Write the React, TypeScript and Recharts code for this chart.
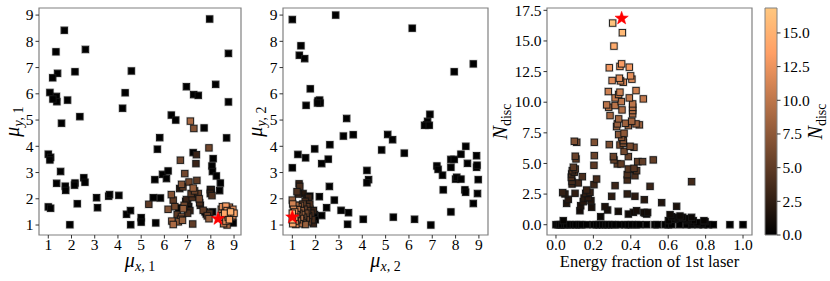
import React from "react";
import { ScatterChart, Scatter, XAxis, YAxis, ReferenceArea } from "recharts";

/* eslint-disable @typescript-eslint/no-explicit-any */

const SERIF = '"Liberation Serif", "Times New Roman", Times, serif';
const VMAX = 16.85;

// panel 1: (mu_x1, mu_y1) for runs with N_disc ~ 0
const p1Zero: [number, number][] = [
  [7.95, 8.85], [1.69, 8.42], [1.33, 7.6], [2.6, 7.69], [8.76, 7.54], [2.15, 6.84], [4.58, 6.87],
  [1.4, 6.78], [1.19, 6.61], [6.95, 6.27], [8.21, 6.36], [7.26, 5.97], [7.46, 5.94], [1.07, 6.05],
  [1.35, 5.9], [1.37, 5.7], [1.2, 5.8], [1.83, 5.76], [8.76, 5.69], [4.31, 6.04], [4.2, 5.45],
  [2.36, 5.13], [6.3, 5.19], [6.49, 5.0], [1.57, 4.88], [7.71, 4.7], [5.8, 4.33], [8.68, 4.32],
  [5.7, 3.89], [1.0, 3.7], [1.1, 3.58], [1.07, 3.48], [7.24, 3.76], [8.1, 3.53], [1.53, 3.04],
  [5.92, 2.93], [6.09, 2.77], [6.16, 3.06], [5.59, 2.73], [1.36, 2.59], [1.73, 2.48], [1.75, 2.32],
  [2.15, 2.6], [2.13, 2.52], [2.53, 2.8], [2.58, 2.63], [8.05, 3.25], [8.07, 3.04], [8.41, 2.6],
  [8.38, 2.31], [8.24, 2.87], [3.6, 2.1], [3.64, 2.16], [4.04, 2.13], [3.08, 2.04], [3.12, 1.66],
  [2.25, 1.81], [5.52, 2.04], [5.83, 2.03], [1.0, 1.69], [1.1, 1.64], [4.37, 1.41], [4.54, 1.55],
  [4.55, 1.01], [5.0, 1.28], [5.0, 1.11], [1.93, 1.01], [5.63, 1.08], [8.96, 1.08], [7.98, 2.35],
  [8.0, 2.25], [7.75, 1.5], [7.8, 1.42], [6.62, 1.65], [6.92, 1.9], [7.05, 1.7], [8.08, 1.5],
];

// panel 1: (mu_x1, mu_y1, N_disc)
const p1Hit: [number, number, number][] = [
  [7.12, 4.96, 9], [7.27, 4.68, 7], [7.92, 3.94, 6], [6.69, 3.47, 6], [7.38, 3.68, 3], [7.36, 3.34, 3],
  [6.88, 2.96, 6], [7.4, 2.7, 5], [7.06, 2.64, 6], [6.74, 2.55, 7], [6.8, 2.45, 5], [6.66, 2.39, 2],
  [7.24, 2.41, 8], [7.3, 2.3, 6], [7.15, 2.2, 5], [7.2, 2.05, 4], [6.95, 1.97, 3], [7.0, 1.85, 2],
  [7.46, 2.2, 5], [7.5, 2.0, 6], [7.52, 1.85, 4], [7.55, 1.75, 3], [6.3, 2.16, 7], [6.38, 1.95, 5],
  [6.45, 1.7, 6], [6.16, 1.6, 7], [6.81, 1.62, 8], [6.74, 1.31, 7], [6.55, 1.4, 5], [6.85, 1.75, 6],
  [5.33, 1.79, 5], [6.32, 1.15, 9], [6.38, 1.02, 9], [6.6, 1.12, 8], [6.7, 1.22, 7], [6.78, 1.18, 8],
  [7.22, 1.04, 5], [7.0, 1.45, 4], [7.1, 1.55, 3], [7.98, 2.2, 3], [8.02, 2.35, 2], [8.05, 2.12, 4],
  [7.92, 1.24, 8], [7.67, 1.56, 5], [7.85, 1.35, 6], [7.95, 1.45, 4],
  [8.5, 1.7, 12], [8.65, 1.72, 13], [8.8, 1.68, 11], [8.95, 1.6, 12], [9.0, 1.45, 14], [8.85, 1.5, 15],
  [8.7, 1.55, 13], [8.6, 1.45, 14], [8.5, 1.35, 12], [8.45, 1.6, 10], [8.75, 1.3, 13], [8.9, 1.3, 11],
  [8.65, 1.15, 12], [8.8, 1.2, 14], [8.55, 1.05, 10], [8.7, 1.0, 9], [8.95, 1.35, 12],
];
const p1Best: [number, number] = [8.31, 1.24];

// panel 2: (mu_x2, mu_y2) for runs with N_disc ~ 0
const p2Zero: [number, number][] = [
  [1.0, 8.83], [2.86, 9.0], [6.14, 8.5], [1.37, 7.83], [1.3, 7.47], [1.53, 7.34], [8.76, 7.14],
  [7.94, 6.84], [1.77, 6.19], [2.1, 5.73], [2.17, 5.76], [2.19, 5.65], [2.08, 5.65], [1.59, 5.56],
  [6.9, 5.22], [6.8, 4.95], [6.76, 4.82], [6.67, 4.8], [6.87, 4.8], [3.33, 5.06], [5.09, 4.45],
  [5.3, 4.25], [3.19, 4.39], [3.61, 4.44], [2.61, 4.06], [8.44, 4.0], [1.96, 3.9], [1.24, 3.69],
  [4.83, 3.86], [5.8, 3.74], [8.23, 3.7], [8.9, 3.64], [1.57, 3.56], [2.54, 3.51], [7.8, 3.5],
  [7.94, 3.5], [2.26, 3.34], [8.51, 3.35], [1.0, 3.18], [4.2, 3.08], [4.27, 2.73], [4.2, 2.61],
  [7.2, 3.25], [7.25, 3.12], [7.44, 2.9], [7.8, 3.2], [8.9, 3.2], [8.92, 3.28], [8.0, 2.75],
  [8.05, 2.82], [8.23, 2.75], [8.97, 2.73], [7.47, 2.34], [8.4, 2.34], [8.43, 2.25], [8.94, 2.2],
  [8.76, 1.82], [2.59, 2.47], [2.16, 2.08], [2.8, 1.95], [2.47, 1.66], [3.09, 1.56], [3.41, 1.47],
  [2.26, 1.36], [3.37, 1.03], [4.04, 1.22], [5.33, 1.3], [6.24, 1.22], [6.94, 1.0], [7.8, 1.5],
  [1.95, 1.4], [1.98, 1.2], [1.9, 1.55], [1.75, 2.1], [1.65, 1.95],
];

// panel 2: (mu_x2, mu_y2, N_disc)
const p2Hit: [number, number, number][] = [
  [1.29, 2.57, 3], [1.32, 2.47, 4], [1.2, 2.27, 4], [1.25, 2.18, 3], [1.46, 2.2, 2], [1.6, 2.0, 2],
  [1.7, 2.05, 3], [1.55, 1.9, 4], [1.45, 1.8, 6], [1.35, 1.75, 7], [1.25, 1.7, 8], [1.15, 1.75, 9],
  [1.0, 1.95, 8], [1.02, 1.8, 11], [1.05, 1.6, 12], [1.1, 1.5, 13], [1.0, 1.45, 15], [1.18, 1.4, 11],
  [1.28, 1.45, 9], [1.38, 1.55, 8], [1.5, 1.6, 6], [1.62, 1.7, 5], [1.75, 1.6, 3], [1.8, 1.45, 4],
  [1.7, 1.35, 5], [1.6, 1.25, 6], [1.48, 1.3, 7], [1.35, 1.25, 9], [1.22, 1.2, 10], [1.12, 1.15, 12],
  [1.02, 1.05, 14], [1.0, 1.2, 16], [1.15, 1.02, 11], [1.3, 1.05, 9], [1.45, 1.1, 7], [1.55, 1.02, 8],
  [1.68, 1.12, 5], [1.85, 1.2, 4], [1.9, 1.05, 3], [1.4, 1.4, 8], [1.22, 1.58, 10], [1.1, 1.3, 14],
  [1.58, 1.45, 6], [1.75, 1.8, 4], [1.9, 1.55, 3], [1.65, 1.55, 5],
];
const p2Best: [number, number] = [1.0, 1.3];

// panel 3: energy fraction of runs with N_disc = 0
const p3Zero: number[] = [
  0.0, 0.012, 0.021, 0.03, 0.048, 0.057, 0.075, 0.093, 0.107, 0.125, 0.137, 0.164, 0.2, 0.217,
  0.232, 0.25, 0.267, 0.28, 0.298, 0.316, 0.339, 0.369, 0.387, 0.405, 0.428, 0.446, 0.485, 0.529,
  0.542, 0.583, 0.601, 0.619, 0.66, 0.699, 0.725, 0.761, 0.788, 0.815, 0.841, 0.93, 1.0,
];

// panel 3: (energy fraction, N_disc)
const p3Hit: [number, number][] = [
  [0.303, 16.46], [0.355, 15.67], [0.31, 14.58], [0.351, 13.13], [0.342, 12.92], [0.285, 12.81],
  [0.392, 12.86], [0.399, 12.15], [0.406, 11.88], [0.3, 11.77], [0.339, 11.96], [0.345, 11.74],
  [0.36, 11.63], [0.28, 10.87], [0.342, 10.82], [0.428, 10.95], [0.316, 10.35], [0.335, 10.63],
  [0.392, 10.35], [0.467, 10.27], [0.271, 9.78], [0.282, 9.59], [0.316, 9.73], [0.349, 10.05],
  [0.41, 9.86], [0.41, 9.59], [0.41, 9.32], [0.41, 9.05], [0.353, 9.37], [0.289, 8.91],
  [0.335, 8.64], [0.328, 8.23], [0.324, 8.01], [0.371, 8.28], [0.387, 8.09], [0.405, 8.45],
  [0.428, 8.23], [0.446, 8.15], [0.335, 7.36], [0.364, 7.47], [0.351, 7.14], [0.36, 6.87],
  [0.285, 6.54], [0.342, 6.51], [0.36, 6.65], [0.396, 6.4], [0.417, 6.32], [0.364, 5.99],
  [0.387, 5.56], [0.307, 5.56], [0.31, 5.29], [0.328, 4.96], [0.348, 4.96], [0.437, 5.15],
  [0.463, 5.15], [0.52, 5.29], [0.387, 4.55], [0.381, 4.09], [0.417, 4.6], [0.431, 4.41],
  [0.422, 4.0], [0.381, 3.65], [0.316, 3.19], [0.503, 3.13], [0.725, 3.51], [0.298, 2.32],
  [0.381, 2.51], [0.422, 2.32], [0.472, 2.04], [0.565, 1.8], [0.645, 1.5],
  [0.098, 6.81], [0.111, 6.73], [0.205, 6.73], [0.103, 5.59], [0.107, 5.37], [0.205, 5.64],
  [0.203, 4.85], [0.093, 4.69], [0.087, 4.41], [0.084, 4.14], [0.082, 3.87], [0.086, 3.54],
  [0.086, 3.32], [0.098, 4.28], [0.103, 4.55], [0.141, 3.92], [0.119, 3.41], [0.217, 3.73],
  [0.203, 3.27], [0.036, 2.62], [0.048, 2.51], [0.102, 2.56], [0.164, 2.83], [0.159, 2.56],
  [0.173, 2.23], [0.182, 2.64], [0.187, 1.96], [0.15, 2.18], [0.146, 1.88], [0.057, 1.74],
  [0.066, 2.07], [0.132, 1.55], [0.128, 1.14], [0.191, 1.42], [0.262, 1.47], [0.276, 1.2],
  [0.333, 1.09], [0.387, 0.87], [0.414, 1.01], [0.431, 1.14], [0.476, 0.95], [0.485, 0.87],
  [0.239, 0.65], [0.663, 0.71], [0.677, 0.6], [0.69, 0.49], [0.708, 0.46], [0.725, 0.6],
  [0.734, 0.33], [0.619, 0.65], [0.601, 0.33], [0.636, 0.44], [0.791, 0.33], [0.039, 0.33],
  [0.61, 0.82], [0.647, 0.57], [0.652, 0.57], [0.674, 0.57], [0.7, 0.49], [0.706, 0.33],
  [0.727, 0.16], [0.754, 0.16], [0.781, 0.08], [0.797, 0.25], [0.47, 1.0], [0.49, 1.0],
];
const p3Best: [number, number] = [0.351, 16.85];

const muTicks = [1, 2, 3, 4, 5, 6, 7, 8, 9];
const fracTicks = [0, 0.2, 0.4, 0.6, 0.8, 1.0];
const ndiscTicks = [0, 2.5, 5, 7.5, 10, 12.5, 15, 17.5];
const cbarTicks = [0, 2.5, 5, 7.5, 10, 12.5, 15];

function copper(v: number) {
  const t = Math.max(0, Math.min(1, v / VMAX));
  const r = Math.round(255 * Math.min(1, 1.25 * t));
  const g = Math.round(255 * 0.7812 * t);
  const b = Math.round(255 * 0.4975 * t);
  return `rgb(${r},${g},${b})`;
}

const SquareDot = (props: any) => {
  const { cx, cy, payload } = props;
  if (cx == null || cy == null) return <g />;
  return (
    <g>
      <rect x={cx - 3.9} y={cy - 3.9} width={7.8} height={7.8} fill="none" stroke="rgba(0,0,0,0.18)" strokeWidth={0.8} />
      <rect x={cx - 3.2} y={cy - 3.2} width={6.4} height={6.4} fill={copper(payload.n)} stroke="#161616" strokeWidth={0.9} />
    </g>
  );
};

const StarDot = (props: any) => {
  const { cx, cy } = props;
  if (cx == null || cy == null) return <g />;
  const pts: string[] = [];
  for (let i = 0; i < 10; i++) {
    const r = i % 2 === 0 ? 7 : 2.9;
    const a = -Math.PI / 2 + (i * Math.PI) / 5;
    pts.push(`${cx + r * Math.cos(a)},${cy + r * Math.sin(a)}`);
  }
  return <polygon points={pts.join(" ")} fill="#ff0000" stroke="#ff0000" strokeWidth={0.5} />;
};

const NoDot = () => <g />;

// serif tick text, recharts hands us the anchor point
const serifTick = (side: "x" | "y", fmt?: (v: number) => string) => (props: any) => {
  const { x, y, payload, textAnchor } = props;
  const v = payload.value;
  return (
    <text
      x={x}
      y={y}
      dy={side === "x" ? "0.7em" : "0.34em"}
      textAnchor={textAnchor}
      fontFamily={SERIF}
      fontSize={15.5}
      fill="#000"
    >
      {fmt ? fmt(v) : String(v)}
    </text>
  );
};

// labels with subscripts, placed in chart-local coords
const muLabel = (axis: string, idx: string, x: number, y: number, rotate: boolean) => () => (
  <text
    x={x}
    y={y}
    textAnchor="middle"
    fontFamily={SERIF}
    fontSize={20}
    fill="#000"
    transform={rotate ? `rotate(-90, ${x}, ${y})` : undefined}
  >
    <tspan fontStyle="italic">μ</tspan>
    <tspan fontSize={14} dy={4} fontStyle="italic">{axis}</tspan>
    <tspan fontSize={14}>, {idx}</tspan>
  </text>
);

const ndiscLabel = (x: number, y: number) => () => (
  <text x={x} y={y} textAnchor="middle" fontFamily={SERIF} fontSize={20} fill="#000" transform={`rotate(-90, ${x}, ${y})`}>
    <tspan fontStyle="italic">N</tspan>
    <tspan fontSize={14} dy={4}>disc</tspan>
  </text>
);

const plainLabel = (text: string, x: number, y: number) => () => (
  <text x={x} y={y} textAnchor="middle" fontFamily={SERIF} fontSize={16.5} fill="#000">
    {text}
  </text>
);

function toZero(arr: [number, number][]) {
  return arr.map(([x, y]) => ({ x, y, n: 0 }));
}

function toHit(arr: [number, number, number][]) {
  return arr.map(([x, y, n]) => ({ x, y, n })).sort((a, b) => a.n - b.n);
}

interface PanelProps {
  left: number;
  width: number;
  yAxisWidth: number;
  xDomain: [number, number];
  yDomain: [number, number];
  xTicks: number[];
  yTicks: number[];
  fmt?: (v: number) => string;
  zero: any[];
  hit: any[];
  best: [number, number];
  xLabel: any;
  yLabel: any;
}

function Panel(p: PanelProps) {
  return (
    <div style={{ position: "absolute", left: p.left, top: 0 }}>
      <ScatterChart width={p.width} height={281} margin={{ top: 8, right: 2, bottom: 0, left: 0 }}>
        <XAxis
          type="number"
          dataKey="x"
          domain={p.xDomain}
          ticks={p.xTicks}
          allowDataOverflow
          tick={serifTick("x", p.fmt)}
          tickSize={3.5}
          tickMargin={0.5}
          tickLine={{ stroke: "#333" }}
          axisLine={false}
          height={46}
          interval={0}
          label={p.xLabel}
        />
        <YAxis
          type="number"
          dataKey="y"
          domain={p.yDomain}
          ticks={p.yTicks}
          allowDataOverflow
          tick={serifTick("y", p.fmt)}
          tickSize={3.5}
          tickMargin={2}
          tickLine={{ stroke: "#333" }}
          axisLine={false}
          width={p.yAxisWidth}
          interval={0}
          label={p.yLabel}
        />
        <ReferenceArea
          x1={p.xDomain[0]}
          x2={p.xDomain[1]}
          y1={p.yDomain[0]}
          y2={p.yDomain[1]}
          fill="none"
          stroke="#808080"
          strokeWidth={1.2}
        />
        <Scatter data={p.zero} shape={SquareDot} isAnimationActive={false} />
        <Scatter data={p.hit} shape={SquareDot} isAnimationActive={false} />
        <Scatter data={[{ x: p.best[0], y: p.best[1] }]} shape={StarDot} isAnimationActive={false} />
      </ScatterChart>
    </div>
  );
}

function ColorBar() {
  const anchor = cbarTicks.map((v) => ({ x: 0.5, y: v }));
  return (
    <div style={{ position: "absolute", left: 754, top: 0 }}>
      <ScatterChart width={76} height={281} margin={{ top: 8, right: 0, bottom: 46, left: 11 }}>
        <defs>
          <linearGradient id="copperGrad" x1="0" y1="1" x2="0" y2="0">
            <stop offset="0" stopColor={copper(0)} />
            <stop offset="0.8" stopColor={copper(0.8 * VMAX)} />
            <stop offset="1" stopColor={copper(VMAX)} />
          </linearGradient>
        </defs>
        <XAxis type="number" dataKey="x" domain={[0, 1]} hide />
        <YAxis
          type="number"
          dataKey="y"
          orientation="right"
          domain={[0, VMAX]}
          allowDataOverflow
          ticks={cbarTicks}
          tick={serifTick("y", (v: number) => v.toFixed(1))}
          tickSize={3.5}
          tickMargin={2}
          tickLine={{ stroke: "#333" }}
          axisLine={false}
          width={53}
          interval={0}
          label={ndiscLabel(68, 121.5)}
        />
        <ReferenceArea x1={0} x2={1} y1={0} y2={VMAX} fill="url(#copperGrad)" fillOpacity={1} stroke="#808080" strokeWidth={1} />
        <Scatter data={anchor} shape={NoDot} isAnimationActive={false} />
      </ScatterChart>
    </div>
  );
}

export default function App() {
  const p3Z = p3Zero.map((x) => ({ x, y: 0, n: 0 }));
  const p3H = p3Hit.map(([x, y]) => ({ x, y, n: y })).sort((a, b) => a.n - b.n);
  const fmt1 = (v: number) => v.toFixed(1);
  return (
    <div
      style={{
        position: "absolute",
        left: 0,
        top: 0,
        width: 830,
        height: 281,
        background: "#fff",
        fontFamily: SERIF,
      }}
    >
      <Panel
        left={0}
        width={243}
        yAxisWidth={39}
        xDomain={[0.6, 9.3]}
        yDomain={[0.62, 9.27]}
        xTicks={muTicks}
        yTicks={muTicks}
        zero={toZero(p1Zero)}
        hit={toHit(p1Hit)}
        best={p1Best}
        xLabel={muLabel("x", "1", 140, 267, false)}
        yLabel={muLabel("y", "1", 19, 121.5, true)}
      />
      <Panel
        left={243}
        width={247}
        yAxisWidth={40}
        xDomain={[0.6, 9.39]}
        yDomain={[0.62, 9.27]}
        xTicks={muTicks}
        yTicks={muTicks}
        zero={toZero(p2Zero)}
        hit={toHit(p2Hit)}
        best={p2Best}
        xLabel={muLabel("x", "2", 142.5, 267, false)}
        yLabel={muLabel("y", "2", 19, 121.5, true)}
      />
      <Panel
        left={490}
        width={264}
        yAxisWidth={57}
        xDomain={[-0.048, 1.048]}
        yDomain={[-0.84, 17.69]}
        xTicks={fracTicks}
        yTicks={ndiscTicks}
        fmt={fmt1}
        zero={p3Z}
        hit={p3H}
        best={p3Best}
        xLabel={plainLabel("Energy fraction of 1st laser", 159.5, 267)}
        yLabel={ndiscLabel(17, 121.5)}
      />
      <ColorBar />
    </div>
  );
}
